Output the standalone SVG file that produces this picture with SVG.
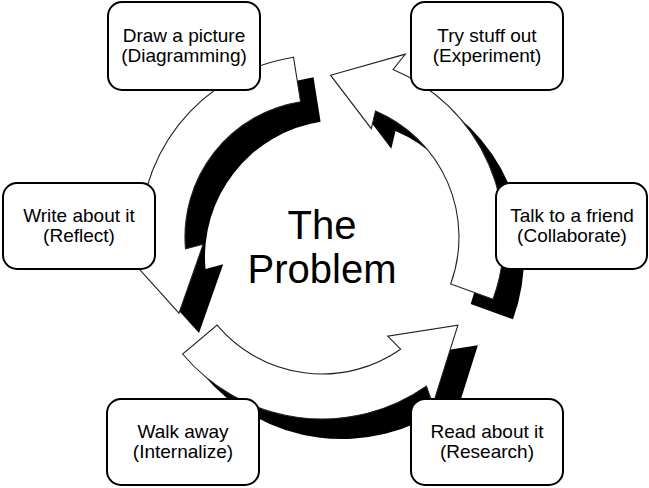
<svg xmlns="http://www.w3.org/2000/svg" width="649" height="488" viewBox="0 0 649 488">
<style>
.bg{fill:#ffffff}
.shadow{fill:#000000;stroke:none}
.arrow{fill:#ffffff;stroke:#222222;stroke-width:1.1;stroke-linejoin:miter}
.box{fill:#ffffff;stroke:#000000;stroke-width:2}
.lbl{font-family:"Liberation Sans",Arial,sans-serif;font-size:19px;fill:#000000;text-anchor:middle}
.big{font-family:"Liberation Sans",Arial,sans-serif;font-size:40px;fill:#000000;text-anchor:middle}
</style>
<defs>
<path id="a1" d="M293.5,57.2 A182,182 0 0 0 140.7,252.9 L121.4,249.3 L179.0,313.1 L203.2,244.3 L185.5,248.9 A137,137 0 0 1 300.6,101.7 Z"/>
<path id="a2" d="M493.0,299.3 A182,182 0 0 0 393.1,69.5 L405.4,54.1 L330.5,75.2 L371.3,128.7 L375.5,110.9 A137,137 0 0 1 450.7,283.9 Z"/>
<path id="a3" d="M182.6,354.0 A182,182 0 0 0 426.4,386.1 L432.9,404.6 L457.9,325.2 L387.7,336.2 L400.6,349.2 A137,137 0 0 1 217.1,325.1 Z"/>
</defs>
<rect class="bg" x="0" y="0" width="649" height="488"/>
<g id="connectors">
  <g transform="translate(20,20)">
    <use href="#a1" class="shadow"/>
    <use href="#a2" class="shadow"/>
    <use href="#a3" class="shadow"/>
  </g>
  <use href="#a1" class="arrow"/>
  <use href="#a2" class="arrow"/>
  <use href="#a3" class="arrow"/>
</g>
<g id="problem">
  <text class="big" x="322" y="239">The</text>
  <text class="big" x="322" y="283">Problem</text>
</g>
<g id="draw">
  <rect class="box" x="108" y="2" width="152" height="88" rx="14"/>
  <text class="lbl" x="184" y="42">Draw a picture</text>
  <text class="lbl" x="184" y="62">(Diagramming)</text>
</g>
<g id="try">
  <rect class="box" x="411" y="2" width="152" height="88" rx="14"/>
  <text class="lbl" x="487" y="42">Try stuff out</text>
  <text class="lbl" x="487" y="62">(Experiment)</text>
</g>
<g id="talk">
  <rect class="box" x="496" y="183" width="151" height="86" rx="14"/>
  <text class="lbl" x="572" y="222">Talk to a friend</text>
  <text class="lbl" x="572" y="242">(Collaborate)</text>
</g>
<g id="write">
  <rect class="box" x="3" y="183" width="152" height="86" rx="14"/>
  <text class="lbl" x="79" y="222">Write about it</text>
  <text class="lbl" x="79" y="242">(Reflect)</text>
</g>
<g id="walk">
  <rect class="box" x="107" y="399" width="152" height="86" rx="14"/>
  <text class="lbl" x="183" y="438">Walk away</text>
  <text class="lbl" x="183" y="458">(Internalize)</text>
</g>
<g id="read">
  <rect class="box" x="411" y="399" width="152" height="86" rx="14"/>
  <text class="lbl" x="487" y="438">Read about it</text>
  <text class="lbl" x="487" y="458">(Research)</text>
</g>
</svg>
